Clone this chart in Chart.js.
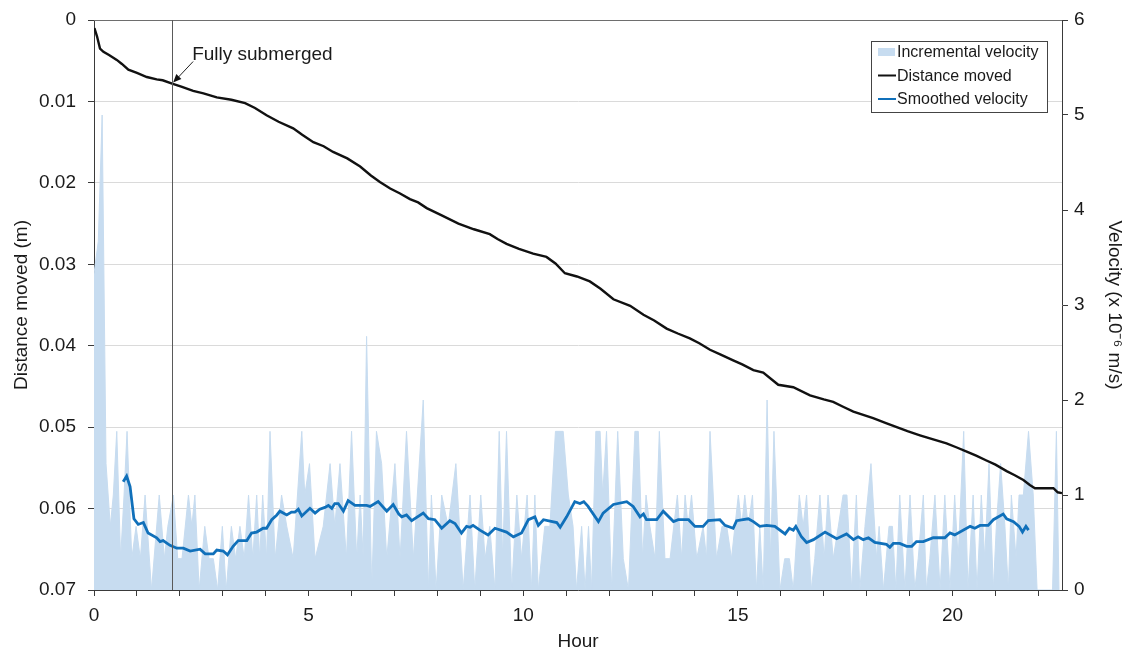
<!DOCTYPE html>
<html>
<head>
<meta charset="utf-8">
<script src="https://cdn.jsdelivr.net/npm/chart.js@4.4.1/dist/chart.umd.min.js"></script>
<style>
  html, body { margin: 0; padding: 0; background: #ffffff; }
  #wrap { width: 1133px; height: 653px; }
</style>
</head>
<body>
<div id="wrap"><canvas id="c" width="1133" height="653"></canvas></div>
<script>
// ---- Data ----
const distHours = [0.01,0.07,0.14,0.22,0.35,0.53,0.65,0.80,1.0,1.23,1.46,1.60,1.82,2.05,2.31,2.55,2.86,3.2,3.52,3.75,4.02,4.3,4.64,4.85,5.11,5.35,5.57,5.9,6.20,6.45,6.66,6.9,7.13,7.36,7.55,7.75,8.1,8.49,8.85,9.22,9.4,9.61,9.9,10.23,10.54,10.75,10.97,11.25,11.55,11.8,12.10,12.49,12.80,13.05,13.34,13.6,13.88,14.1,14.35,14.6,14.89,15.1,15.36,15.59,15.94,16.29,16.68,17.0,17.22,17.45,17.69,18.15,18.45,18.70,18.95,19.24,19.55,19.86,20.1,20.33,20.55,20.79,21.0,21.26,21.45,21.65,21.8,21.92,22.1,22.35,22.45,22.55];
const distMoved = [0.0010,0.0020,0.0035,0.0039,0.0043,0.0049,0.0054,0.0061,0.0065,0.0070,0.0073,0.0074,0.0078,0.0082,0.0087,0.0090,0.0095,0.0098,0.0102,0.0108,0.0117,0.0125,0.0133,0.0141,0.0150,0.0155,0.0162,0.0170,0.0180,0.0191,0.0199,0.0207,0.0213,0.0220,0.0224,0.0231,0.0240,0.0250,0.0257,0.0263,0.0269,0.0275,0.0281,0.0287,0.0291,0.0299,0.0311,0.0315,0.0321,0.0330,0.0343,0.0351,0.0362,0.0369,0.0379,0.0385,0.0391,0.0397,0.0405,0.0411,0.0418,0.0423,0.0430,0.0433,0.0448,0.0451,0.0461,0.0466,0.0469,0.0475,0.0481,0.0489,0.0495,0.0500,0.0505,0.0510,0.0515,0.0520,0.0525,0.0530,0.0535,0.0541,0.0546,0.0554,0.0559,0.0565,0.0571,0.0575,0.0575,0.0575,0.0580,0.0581];

const smoothHours = [0.68,0.76,0.84,0.93,1.03,1.15,1.26,1.46,1.54,1.61,1.77,1.93,2.08,2.24,2.47,2.59,2.78,2.86,3.01,3.11,3.24,3.36,3.56,3.67,3.79,3.94,4.02,4.14,4.26,4.33,4.49,4.60,4.68,4.76,4.84,5.03,5.15,5.26,5.38,5.46,5.54,5.61,5.69,5.81,5.92,6.08,6.35,6.43,6.62,6.82,6.97,7.10,7.17,7.28,7.40,7.67,7.79,7.94,8.10,8.29,8.41,8.56,8.68,8.76,8.83,8.99,9.18,9.34,9.61,9.77,9.96,10.12,10.27,10.35,10.47,10.78,10.86,11.01,11.20,11.32,11.41,11.51,11.75,11.86,12.10,12.41,12.56,12.72,12.80,12.87,13.11,13.26,13.50,13.61,13.85,14.00,14.19,14.31,14.58,14.70,14.89,14.97,15.24,15.36,15.51,15.67,15.86,16.10,16.20,16.29,16.35,16.48,16.60,16.76,17.03,17.30,17.53,17.69,17.80,17.92,18.04,18.19,18.46,18.54,18.62,18.77,18.93,19.05,19.16,19.32,19.55,19.82,19.94,20.05,20.41,20.52,20.64,20.83,20.95,21.18,21.26,21.42,21.55,21.63,21.71,21.77];
const smoothVel = [1.14,1.20,1.09,0.75,0.69,0.71,0.60,0.55,0.51,0.52,0.47,0.44,0.44,0.41,0.43,0.38,0.38,0.42,0.41,0.37,0.46,0.52,0.52,0.60,0.61,0.65,0.65,0.74,0.79,0.83,0.79,0.82,0.82,0.85,0.78,0.86,0.81,0.85,0.87,0.89,0.86,0.91,0.91,0.83,0.94,0.89,0.89,0.88,0.93,0.83,0.90,0.80,0.77,0.79,0.73,0.81,0.75,0.74,0.65,0.73,0.70,0.60,0.67,0.66,0.68,0.63,0.58,0.65,0.61,0.56,0.60,0.74,0.77,0.68,0.74,0.71,0.66,0.77,0.93,0.91,0.93,0.88,0.72,0.81,0.90,0.93,0.88,0.77,0.80,0.74,0.74,0.83,0.72,0.74,0.74,0.67,0.67,0.73,0.74,0.68,0.65,0.73,0.75,0.72,0.67,0.68,0.67,0.59,0.65,0.63,0.67,0.56,0.50,0.53,0.61,0.54,0.59,0.53,0.56,0.53,0.55,0.50,0.48,0.45,0.49,0.49,0.46,0.46,0.51,0.51,0.55,0.55,0.60,0.58,0.67,0.65,0.68,0.68,0.74,0.80,0.75,0.72,0.67,0.61,0.67,0.63];

const incHours = [0.0,0.1,0.19,0.28,0.38,0.45,0.53,0.62,0.70,0.77,0.88,0.98,1.08,1.19,1.34,1.52,1.64,1.72,1.85,1.95,2.05,2.20,2.28,2.35,2.45,2.58,2.68,2.78,2.88,2.99,3.08,3.20,3.30,3.40,3.50,3.60,3.70,3.79,3.86,3.93,4.02,4.10,4.22,4.37,4.49,4.64,4.84,4.91,5.02,5.15,5.34,5.50,5.61,5.73,5.88,6.0,6.12,6.20,6.27,6.35,6.47,6.58,6.70,6.82,7.01,7.13,7.28,7.44,7.67,7.79,7.86,7.97,8.10,8.25,8.43,8.60,8.76,8.87,9.01,9.11,9.22,9.34,9.44,9.52,9.61,9.73,9.85,9.96,10.09,10.19,10.27,10.35,10.50,10.62,10.75,10.93,11.05,11.16,11.24,11.36,11.44,11.52,11.59,11.69,11.79,11.85,11.94,12.06,12.20,12.33,12.45,12.60,12.68,12.78,12.86,12.95,13.07,13.17,13.30,13.42,13.59,13.69,13.77,13.84,13.92,14.04,14.19,14.27,14.35,14.50,14.63,14.74,14.85,15.01,15.09,15.16,15.24,15.34,15.43,15.51,15.59,15.68,15.76,15.84,15.98,16.09,16.20,16.29,16.43,16.52,16.60,16.71,16.79,16.91,17.01,17.10,17.22,17.34,17.45,17.54,17.65,17.76,17.84,17.96,18.10,18.23,18.29,18.39,18.52,18.60,18.68,18.77,18.89,19.01,19.12,19.20,19.32,19.39,19.47,19.59,19.71,19.82,19.94,20.05,20.13,20.26,20.36,20.48,20.57,20.67,20.75,20.85,20.95,21.02,21.12,21.22,21.30,21.37,21.48,21.55,21.65,21.77,21.88,21.97,22.33,22.42,22.48];
const incVel = [3.33,3.67,5.0,1.33,0.67,1.0,1.67,0.33,1.0,1.67,0.33,0.67,0.33,1.0,0,1.0,0.33,0.67,1.0,0.33,0.33,1.0,0.67,1.0,0,0.67,0.33,0.33,0,0.67,0,0.67,0.33,0.67,0.33,1.0,0.33,1.0,0.33,1.0,0.33,1.67,0.33,1.0,0.67,0.33,1.67,1.0,1.33,0.33,0.67,1.33,0.67,1.33,0.33,1.67,0.33,1.0,0.33,2.67,0,1.67,1.33,0.33,1.33,0.33,1.67,0.33,2.0,0,1.0,0,1.0,0.67,1.33,0,1.0,0,1.0,0.33,0.67,0,1.67,0.33,1.67,0,1.0,0.33,1.0,0,1.0,0,0.67,0.67,1.67,1.67,1.0,0.67,0,0.67,0,0.67,0,1.67,1.67,1.0,1.67,0,1.67,0.33,0,1.67,1.67,0.33,1.0,0.67,0.33,1.67,0.33,0.33,1.0,0.33,1.0,0.67,1.0,0.33,0.67,0.33,1.67,0.33,0.67,0.67,0.33,1.0,0.67,1.0,0.67,1.0,0,0.67,0,2.0,0.33,1.67,0,0.33,0.33,0,1.0,0.67,1.0,0,0.33,1.0,0.33,1.0,0.33,0.67,1.0,1.0,0,1.0,0,0.67,1.33,0.33,0.67,0,0.67,0.67,0,1.0,0,1.0,0,0.33,1.0,0,0.33,1.0,0,1.0,0,1.0,0.33,1.67,0,1.0,0,1.0,0.33,1.33,0,0.67,1.33,0.67,0,1.0,0.33,1.0,1.0,1.67,1.0,0,0,1.67,0];

const leftTicks = [0, 0.01, 0.02, 0.03, 0.04, 0.05, 0.06, 0.07];
const rightTicks = [0, 1, 2, 3, 4, 5, 6];
const xLabelHours = [0, 5, 10, 15, 20];
const legendLabels = ['Incremental velocity', 'Distance moved', 'Smoothed velocity'];
const submergedHour = 1.82;
const submergedDepth = 0.0078;
const submergedLabel = 'Fully submerged';

// ---- Build points ----
const zip = (xs, ys) => xs.map((x, i) => ({ x: x, y: ys[i] }));

const FONT = "'Liberation Sans', Arial, Helvetica, sans-serif";
const INC_COLOR = 'rgb(199, 220, 240)';
const SMOOTH_COLOR = 'rgb(16, 112, 186)';
const DIST_COLOR = '#111111';
const AXIS_COLOR = '#3a3a3a';

const extrasPlugin = {
  id: 'extras',
  beforeDraw(chart) {
    const ctx = chart.ctx;
    ctx.save();
    ctx.fillStyle = '#ffffff';
    ctx.fillRect(0, 0, chart.width, chart.height);
    ctx.restore();
  },
  afterDatasetsDraw(chart) {
    const ctx = chart.ctx;
    const a = chart.chartArea;
    const xs = chart.scales.x, yl = chart.scales.yL;
    ctx.save();
    // top border
    ctx.strokeStyle = '#6e6e6e';
    ctx.lineWidth = 1;
    ctx.beginPath();
    ctx.moveTo(a.left, a.top + 0.5);
    ctx.lineTo(a.right, a.top + 0.5);
    ctx.stroke();
    // vertical submerged line
    const vx = Math.round(xs.getPixelForValue(submergedHour)) + 0.5;
    ctx.strokeStyle = '#5a5a5a';
    ctx.beginPath();
    ctx.moveTo(vx, a.top);
    ctx.lineTo(vx, a.bottom);
    ctx.stroke();
    // arrow to curve
    const tipX = xs.getPixelForValue(submergedHour) + 1;
    const tipY = yl.getPixelForValue(submergedDepth) - 1;
    const startX = tipX + 20, startY = tipY - 21;
    ctx.strokeStyle = '#222';
    ctx.lineWidth = 1;
    ctx.beginPath();
    ctx.moveTo(startX, startY);
    ctx.lineTo(tipX + 4, tipY - 4);
    ctx.stroke();
    const ang = Math.atan2(tipY - startY, tipX - startX);
    ctx.fillStyle = '#111';
    ctx.beginPath();
    ctx.moveTo(tipX, tipY);
    ctx.lineTo(tipX - 9 * Math.cos(ang - 0.4), tipY - 9 * Math.sin(ang - 0.4));
    ctx.lineTo(tipX - 9 * Math.cos(ang + 0.4), tipY - 9 * Math.sin(ang + 0.4));
    ctx.closePath();
    ctx.fill();
    // label
    ctx.font = '19px ' + FONT;
    ctx.fillStyle = '#1a1a1a';
    ctx.textBaseline = 'alphabetic';
    ctx.textAlign = 'left';
    ctx.fillText(submergedLabel, startX - 1, startY - 2);
    // legend
    const lx = 871, ly = 41, lw = 176, lh = 71;
    ctx.fillStyle = '#ffffff';
    ctx.fillRect(lx, ly, lw, lh);
    ctx.strokeStyle = '#444';
    ctx.lineWidth = 1;
    ctx.strokeRect(lx + 0.5, ly + 0.5, lw, lh);
    ctx.font = '16px ' + FONT;
    ctx.textBaseline = 'middle';
    ctx.fillStyle = '#1a1a1a';
    const rows = [52, 75.5, 99];
    ctx.fillStyle = INC_COLOR;
    ctx.fillRect(878, rows[0] - 4, 17, 8);
    ctx.lineWidth = 2;
    ctx.strokeStyle = DIST_COLOR;
    ctx.beginPath(); ctx.moveTo(878, rows[1]); ctx.lineTo(896, rows[1]); ctx.stroke();
    ctx.strokeStyle = SMOOTH_COLOR;
    ctx.beginPath(); ctx.moveTo(878, rows[2]); ctx.lineTo(896, rows[2]); ctx.stroke();
    ctx.fillStyle = '#1a1a1a';
    legendLabels.forEach((t, i) => ctx.fillText(t, 897, rows[i] + 1));
    ctx.restore();
  }
};

Chart.defaults.font.family = FONT;
Chart.defaults.font.size = 19;
Chart.defaults.color = '#1a1a1a';

const fitY = w => s => { s.width = w; s.paddingTop = 0; s.paddingBottom = 0; };

new Chart(document.getElementById('c'), {
  type: 'line',
  data: {
    datasets: [
      {
        label: legendLabels[2],
        data: zip(smoothHours, smoothVel),
        yAxisID: 'yR',
        borderColor: SMOOTH_COLOR,
        borderWidth: 2.8,
        pointRadius: 0,
        tension: 0,
        fill: false,
        order: 1
      },
      {
        label: legendLabels[1],
        data: zip(distHours, distMoved),
        yAxisID: 'yL',
        borderColor: DIST_COLOR,
        borderWidth: 2.4,
        pointRadius: 0,
        tension: 0,
        fill: false,
        order: 2
      },
      {
        label: legendLabels[0],
        data: zip(incHours, incVel),
        yAxisID: 'yR',
        borderColor: INC_COLOR,
        backgroundColor: INC_COLOR,
        borderWidth: 1,
        pointRadius: 0,
        tension: 0,
        fill: 'origin',
        order: 3
      }
    ]
  },
  options: {
    responsive: false,
    devicePixelRatio: 1,
    animation: false,
    layout: { padding: { top: 20, left: 0, right: 0, bottom: 0 } },
    plugins: { legend: { display: false }, tooltip: { enabled: false } },
    scales: {
      x: {
        type: 'linear',
        min: 0,
        max: 22.55,
        afterFit: s => { s.height = 63; s.paddingLeft = 0; s.paddingRight = 0; },
        ticks: {
          stepSize: 1,
          autoSkip: false,
          includeBounds: false,
          maxRotation: 0,
          padding: 8,
          callback: v => (xLabelHours.includes(v) ? String(v) : '')
        },
        grid: { drawOnChartArea: false, drawTicks: true, tickLength: 6, tickColor: AXIS_COLOR, color: AXIS_COLOR },
        border: { display: true, color: AXIS_COLOR, width: 1 },
        title: { display: true, text: 'Hour', padding: { top: 0, bottom: 0 } }
      },
      yL: {
        type: 'linear',
        position: 'left',
        reverse: true,
        min: 0,
        max: 0.07,
        afterFit: fitY(94),
        afterBuildTicks: s => { s.ticks = leftTicks.map(v => ({ value: v })); },
        ticks: {
          padding: 12,
          callback: v => (v === 0 ? '0' : v.toFixed(2))
        },
        grid: { color: '#dadada', lineWidth: 1, drawTicks: true, tickLength: 6, tickColor: AXIS_COLOR },
        border: { display: true, color: AXIS_COLOR, width: 1 },
        title: { display: true, text: 'Distance moved (m)', padding: { top: 10, bottom: 0 } }
      },
      yR: {
        type: 'linear',
        position: 'right',
        min: 0,
        max: 6,
        afterFit: fitY(71),
        afterBuildTicks: s => { s.ticks = rightTicks.map(v => ({ value: v })); },
        ticks: { padding: 6, callback: v => String(v) },
        grid: { drawOnChartArea: false, drawTicks: true, tickLength: 6, tickColor: AXIS_COLOR, color: AXIS_COLOR },
        border: { display: true, color: AXIS_COLOR, width: 1 },
        title: { display: true, text: 'Velocity (x 10\u207B\u2076 m/s)', padding: { top: 7, bottom: 0 } }
      }
    }
  },
  plugins: [extrasPlugin]
});
</script>
</body>
</html>
